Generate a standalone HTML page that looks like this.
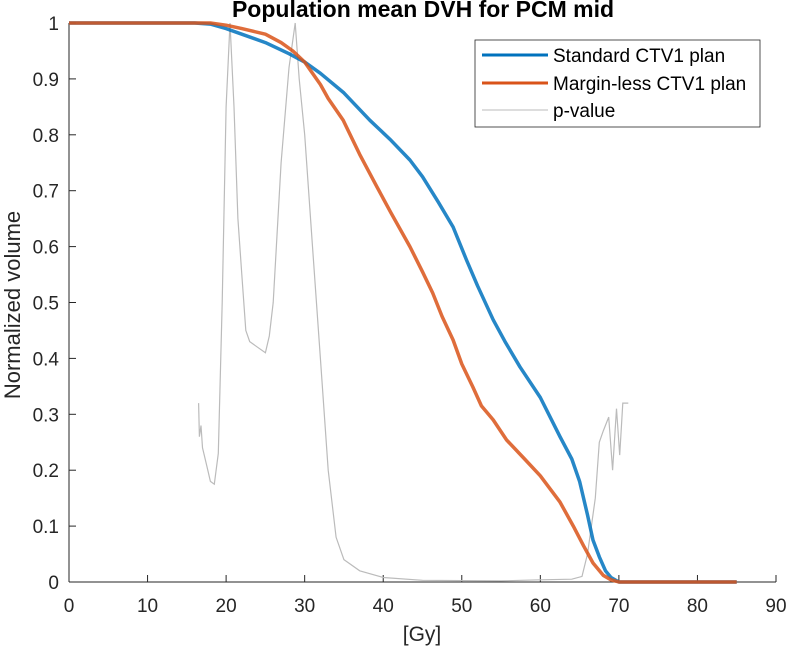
<!DOCTYPE html>
<html><head><meta charset="utf-8"><style>
body{margin:0;background:#fff;}
svg{display:block;font-family:"Liberation Sans",Arial,sans-serif;}
</style></head><body>
<svg id="chart" width="788" height="650" viewBox="0 0 788 650">
<text x="423" y="17" text-anchor="middle" font-size="23" font-weight="bold" fill="#000">Population mean DVH for PCM mid</text>
<g id="axes"></g>
<g id="series"></g>
<text x="422" y="641" text-anchor="middle" font-size="21" fill="#262626">[Gy]</text>
<text transform="translate(20,305) rotate(-90)" text-anchor="middle" font-size="22" fill="#262626">Normalized volume</text>
<g>
<rect x="475" y="40" width="285" height="87" fill="#fff" stroke="#262626" stroke-width="0.8"/>
<g><line x1="482" y1="55" x2="548" y2="55" stroke="#0072BD" stroke-width="3"/><text x="553" y="62" font-size="19" fill="#000">Standard CTV1 plan</text></g>
<g><line x1="482" y1="83" x2="548" y2="83" stroke="#D95319" stroke-width="3"/><text x="553" y="90" font-size="19" fill="#000">Margin-less CTV1 plan</text></g>
<g><line x1="482" y1="110" x2="548" y2="110" stroke="#bbb" stroke-width="1"/><text x="553" y="117" font-size="19" fill="#000">p-value</text></g>
</g>
</svg>
<script>
const xTicks=[0,10,20,30,40,50,60,70,80,90];
const yTicks=[0,0.1,0.2,0.3,0.4,0.5,0.6,0.7,0.8,0.9,1];
const yTickLabels=["0","0.1","0.2","0.3","0.4","0.5","0.6","0.7","0.8","0.9","1"];
const stdDose=[0,16,18,20,22,25,28,30,32,35,38.3,41,43.4,45,47,48.9,50.6,52,54,55.5,57.4,60,62.5,64,65,66,66.7,67.5,68.3,69,70,85];
const stdVol=[1,1,0.998,0.99,0.98,0.965,0.945,0.93,0.91,0.875,0.826,0.79,0.755,0.725,0.68,0.635,0.576,0.53,0.469,0.43,0.385,0.33,0.26,0.22,0.18,0.12,0.075,0.045,0.02,0.008,0,0];
const mlDose=[0,18,20,22,25,27,28.5,30,31,32,33,34.9,37,39.2,41,43.4,45,46.3,47.5,48.9,50,51.4,52.5,54,55.7,58,60,62.5,64.2,65.5,66.7,68,69,70,85];
const mlVol=[1,1,0.996,0.99,0.98,0.965,0.95,0.93,0.91,0.89,0.865,0.826,0.765,0.707,0.66,0.6,0.555,0.517,0.475,0.433,0.39,0.349,0.315,0.29,0.254,0.22,0.19,0.143,0.1,0.065,0.034,0.012,0.004,0,0];
const pDose=[16.5,16.5,16.6,16.8,17,17.5,18,18.5,19,19.5,20,20.5,21,21.5,22,22.5,23,24,25,25.5,26,27,28,28.8,29.3,30,31,32,33,34,35,37,40,45,55,60,64,65.3,66,67,67.5,68,68.7,69.2,69.7,70.1,70.5,71.2];
const pVal=[0.32,0.32,0.26,0.28,0.24,0.21,0.18,0.175,0.23,0.5,0.85,1.0,0.85,0.65,0.55,0.45,0.43,0.42,0.41,0.44,0.5,0.75,0.92,1.0,0.9,0.8,0.6,0.4,0.2,0.08,0.04,0.02,0.008,0.003,0.002,0.004,0.005,0.01,0.05,0.15,0.25,0.27,0.295,0.2,0.31,0.227,0.32,0.32];
const X=v=>69+v*(776-69)/90;
const Y=v=>582-v*559;
const NS="http://www.w3.org/2000/svg";
const axes=document.getElementById('axes'),series=document.getElementById('series');
function mk(tag,attrs,parent){const e=document.createElementNS(NS,tag);for(const k in attrs)e.setAttribute(k,attrs[k]);parent.appendChild(e);return e;}
let l=mk('line',{x1:69,y1:582,x2:776,y2:582,stroke:'#262626','stroke-width':1},axes);


l=mk('line',{x1:69,y1:23,x2:69,y2:582,stroke:'#262626','stroke-width':1},axes);


xTicks.forEach(t=>{
 const tk=mk('line',{x1:X(t),y1:582,x2:X(t),y2:575,stroke:'#262626'},axes);
 
 
 const tx=mk('text',{x:X(t),y:612,'text-anchor':'middle','font-size':19,fill:'#262626'},axes);
 tx.textContent=t;
 
 
});
yTicks.forEach((t,i)=>{
 const tk=mk('line',{x1:69,y1:Y(t),x2:76,y2:Y(t),stroke:'#262626'},axes);
 
 
 const tx=mk('text',{x:59,y:Y(t)+7,'text-anchor':'end','font-size':19,fill:'#262626'},axes);
 tx.textContent=yTickLabels[i];
 
 
});
function pts(xs,ys){return xs.map((x,i)=>X(x).toFixed(1)+','+Y(ys[i]).toFixed(1)).join(' ');}
let p=mk('polyline',{points:pts(pDose,pVal),fill:'none',stroke:'#bbb','stroke-width':1.2},series);


p=mk('polyline',{points:pts(stdDose,stdVol),fill:'none',stroke:'#0072BD','stroke-width':3.5,'stroke-linejoin':'round','stroke-opacity':0.85},series);


p=mk('polyline',{points:pts(mlDose,mlVol),fill:'none',stroke:'#D95319','stroke-width':3.5,'stroke-linejoin':'round','stroke-opacity':0.85},series);


</script>
</body></html>
